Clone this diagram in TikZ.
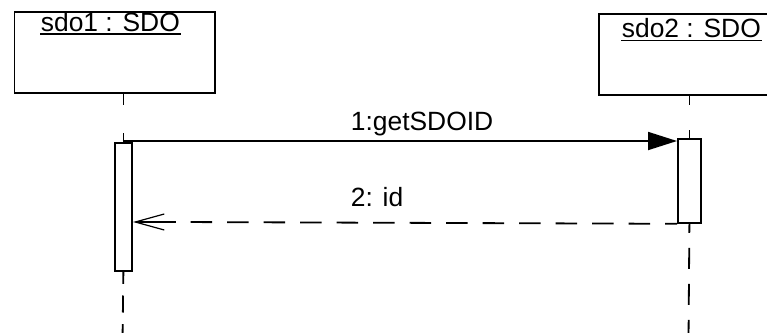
\documentclass[tikz,border=0pt]{standalone}
\usepackage{fontspec}
\setmainfont{Liberation Sans}
\usetikzlibrary{arrows.meta}
\begin{document}
\begin{tikzpicture}[x=1pt,y=-1pt,line width=1.8pt,
  every node/.style={font=\fontsize{26.4pt}{30pt}\selectfont},
  objbox/.style={draw,rectangle,inner sep=0,anchor=north west},
  actbox/.style={draw,rectangle,fill=white,inner sep=0,anchor=north west},
  lbl/.style={anchor=base west,inner sep=0}]
\useasboundingbox (0,0) rectangle (767,332);
% object boxes
\node[objbox,minimum width=200.5pt,minimum height=81.3pt] (o1) at (13.5,11) {};
\node[objbox,minimum width=185pt,minimum height=80.4pt] (o2) at (598,13.3) {};
\node[lbl] (t1) at (40,31.5) {sdo1 : SDO};
\node[lbl] (t2) at (621,37) {sdo2 : SDO};
\draw ([yshift=-2.6pt]t1.base west) -- ([yshift=-2.6pt]t1.base east);
\draw ([yshift=-3.4pt]t2.base west) -- ([yshift=-3.4pt]t2.base east);
% activations
\node[actbox,minimum width=17pt,minimum height=128pt] (a1) at (114,142) {};
\node[actbox,minimum width=23pt,minimum height=84pt] (a2) at (677,138) {};
% lifelines
\coordinate (e1) at (122.5,340);
\coordinate (e2) at (688.5,340);
\draw[dash pattern=on 11pt off 28pt] (o1.south -| a1.north) -- (a1.north);
\draw[dash pattern=on 17pt off 11.7pt,dash phase=5pt] (a1.south) -- (e1);
\draw[dash pattern=on 9.5pt off 25pt] (o2.south -| a2.north) -- (a2.north);
\draw[dash pattern=on 21pt off 15pt,dash phase=12pt] (a2.south) -- (e2);
% message 1
\coordinate (m1s) at (122.5,141);
\draw[-{Triangle[length=29pt,width=18pt]}] (m1s) -- (a2.west |- m1s);
\node[lbl] (lab1) at (350,130) {1:getSDOID};
% message 2
\coordinate (m2m) at (175.5,222);
\coordinate (m2e) at (133,222);
\draw[dash pattern=on 21.5pt off 15pt,dash phase=9.5pt] (a2.south west) -- (m2m);
\draw[-{Straight Barb[length=29pt,width=16pt,line width=1.2pt]}] (m2m) -- (m2e);
\node[lbl] (lab2) at (350,206) {2: id};
\end{tikzpicture}
\end{document}
